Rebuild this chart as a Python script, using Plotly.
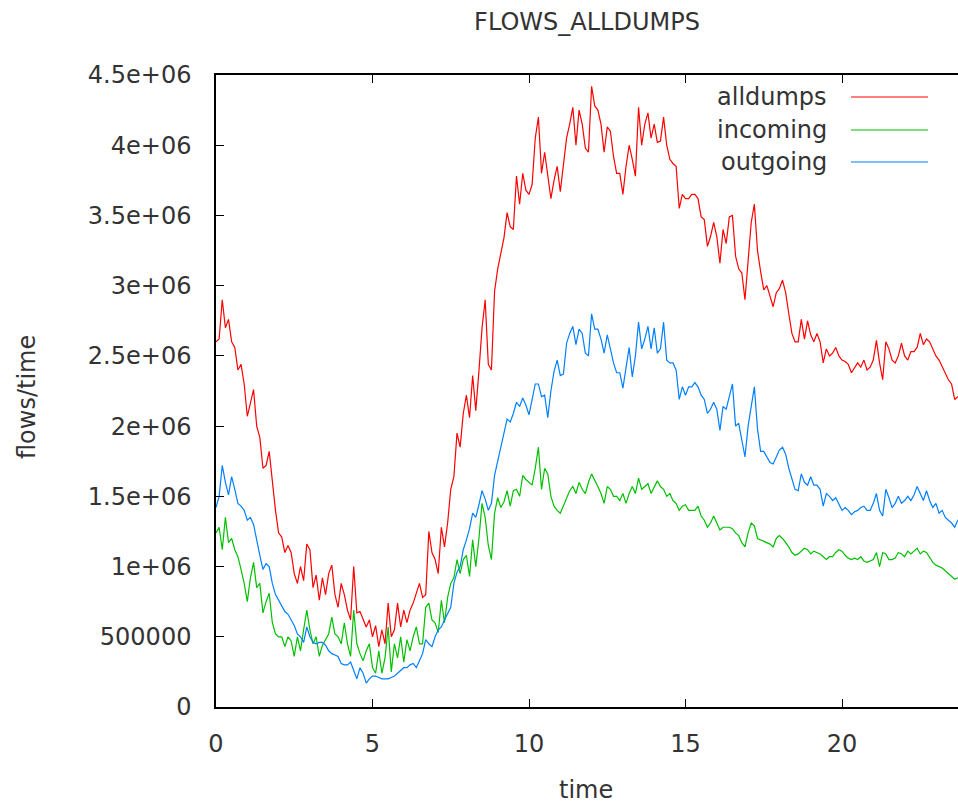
import plotly.graph_objects as go

# time axis (hours), step 0.1
time = [round(i * 0.1, 1) for i in range(241)]

# values in millions of flows/time
alldumps_m = [
    2.60, 2.62, 2.90, 2.70, 2.76, 2.60, 2.56, 2.40, 2.44, 2.30,
    2.07, 2.17, 2.26, 2.00, 1.92, 1.70, 1.72, 1.82, 1.60, 1.40,
    1.24, 1.21, 1.10, 1.15, 1.10, 0.95, 0.88, 1.00, 0.90, 1.16,
    1.12, 0.85, 0.94, 0.76, 0.92, 0.80, 0.95, 1.01, 0.80, 0.71,
    0.88, 0.80, 0.69, 0.62, 1.00, 0.67, 0.68, 0.62, 0.57, 0.62,
    0.50, 0.58, 0.43, 0.55, 0.45, 0.74, 0.50, 0.55, 0.74, 0.57,
    0.69, 0.60, 0.69, 0.74, 0.81, 0.88, 0.78, 0.80, 1.25, 1.10,
    1.05, 0.95, 1.28, 1.14, 1.31, 1.55, 1.64, 1.95, 1.85, 2.09,
    2.22, 2.06, 2.36, 2.11, 2.39, 2.70, 2.90, 2.44, 2.40, 2.96,
    3.12, 3.22, 3.34, 3.52, 3.42, 3.40, 3.78, 3.58, 3.80, 3.68,
    3.65, 3.72, 4.05, 4.20, 3.80, 3.95, 3.78, 3.62, 3.75, 3.85,
    3.67, 3.86, 4.05, 4.15, 4.27, 4.00, 4.25, 4.15, 3.98, 3.95,
    4.42, 4.28, 4.25, 4.15, 3.95, 4.13, 4.10, 3.92, 3.80, 3.80,
    3.65, 3.85, 4.00, 3.90, 3.78, 4.27, 4.00, 4.15, 4.23, 4.05,
    4.15, 4.02, 4.03, 4.20, 4.00, 3.90, 3.87, 3.85, 3.55, 3.65,
    3.62, 3.62, 3.65, 3.65, 3.62, 3.49, 3.47, 3.28, 3.35, 3.45,
    3.35, 3.16, 3.40, 3.30, 3.49, 3.50, 3.21, 3.12, 3.09, 2.90,
    3.20, 3.45, 3.58, 3.25, 3.10, 2.97, 3.00, 2.92, 2.85, 2.95,
    2.98, 3.04, 2.95, 2.80, 2.66, 2.60, 2.60, 2.76, 2.62, 2.75,
    2.65, 2.60, 2.66, 2.60, 2.45, 2.55, 2.50, 2.52, 2.56, 2.50,
    2.47, 2.46, 2.44, 2.38, 2.42, 2.45, 2.42, 2.47, 2.40, 2.42,
    2.47, 2.61, 2.45, 2.33, 2.60, 2.55, 2.47, 2.45, 2.50, 2.59,
    2.50, 2.47, 2.53, 2.53, 2.56, 2.66, 2.58, 2.62, 2.60, 2.55,
    2.50, 2.47, 2.42, 2.38, 2.33, 2.30, 2.19, 2.21, 2.20, 2.22,
    2.25,
]

incoming_m = [
    1.24, 1.28, 1.12, 1.35, 1.17, 1.20, 1.12, 1.07, 0.98, 0.88,
    0.75, 0.92, 1.03, 0.85, 0.88, 0.67, 0.75, 0.81, 0.60, 0.52,
    0.50, 0.50, 0.43, 0.50, 0.47, 0.36, 0.50, 0.40, 0.55, 0.69,
    0.55, 0.45, 0.50, 0.36, 0.44, 0.48, 0.52, 0.64, 0.52, 0.50,
    0.45, 0.60, 0.45, 0.36, 0.69, 0.45, 0.38, 0.33, 0.40, 0.45,
    0.28, 0.24, 0.40, 0.24, 0.35, 0.57, 0.25, 0.45, 0.35, 0.50,
    0.32, 0.48, 0.40, 0.50, 0.57, 0.45, 0.45, 0.71, 0.74, 0.62,
    0.60, 0.53, 0.76, 0.60, 0.78, 0.88, 0.92, 1.05, 0.95, 1.05,
    1.08, 0.93, 1.19, 1.00, 1.20, 1.45, 1.35, 1.15, 1.05, 1.38,
    1.49, 1.42, 1.46, 1.54, 1.43, 1.54, 1.55, 1.50, 1.65, 1.62,
    1.60, 1.58, 1.70, 1.85, 1.55, 1.70, 1.66, 1.50, 1.43, 1.40,
    1.38, 1.43, 1.49, 1.54, 1.57, 1.52, 1.60, 1.55, 1.52, 1.60,
    1.66, 1.62, 1.57, 1.52, 1.45, 1.57, 1.55, 1.50, 1.50, 1.47,
    1.52, 1.45, 1.52, 1.57, 1.52, 1.63, 1.55, 1.57, 1.59, 1.52,
    1.57, 1.61, 1.57, 1.55, 1.50, 1.52, 1.47, 1.45, 1.40, 1.43,
    1.44, 1.40, 1.40, 1.40, 1.43, 1.36, 1.33, 1.28, 1.31, 1.36,
    1.31, 1.26, 1.28, 1.28, 1.28, 1.27, 1.24, 1.22, 1.17, 1.14,
    1.24, 1.31, 1.29, 1.20, 1.19, 1.18, 1.17, 1.16, 1.14, 1.20,
    1.22, 1.20, 1.17, 1.14, 1.10, 1.08, 1.09, 1.11, 1.13, 1.12,
    1.09, 1.11, 1.10, 1.09, 1.07, 1.05, 1.07, 1.07, 1.10, 1.12,
    1.11, 1.08, 1.06, 1.05, 1.06, 1.05, 1.07, 1.04, 1.03, 1.04,
    1.05, 1.10, 1.00, 1.10, 1.09, 1.05, 1.05, 1.06, 1.10, 1.09,
    1.07, 1.11, 1.09, 1.11, 1.13, 1.09, 1.11, 1.10, 1.06, 1.03,
    1.01, 1.00, 0.99, 0.97, 0.95, 0.93, 0.91, 0.92, 0.91, 0.90,
    0.92,
]

outgoing_m = [
    1.42, 1.50, 1.72, 1.60, 1.51, 1.64, 1.55, 1.45, 1.43, 1.40,
    1.33, 1.35, 1.30, 1.18, 1.08, 0.98, 1.02, 1.00, 0.88, 0.80,
    0.76, 0.72, 0.68, 0.66, 0.62, 0.58, 0.52, 0.50, 0.46, 0.57,
    0.50, 0.46, 0.45, 0.46, 0.46, 0.44, 0.40, 0.38, 0.37, 0.36,
    0.31, 0.30, 0.30, 0.32, 0.26, 0.20, 0.28, 0.24, 0.17, 0.20,
    0.22, 0.22, 0.21, 0.20, 0.20, 0.20, 0.21, 0.22, 0.24, 0.26,
    0.28, 0.28, 0.30, 0.31, 0.28, 0.33, 0.38, 0.48, 0.45, 0.43,
    0.50, 0.55, 0.57, 0.62, 0.67, 0.71, 0.88, 0.96, 1.00, 1.12,
    1.19, 1.27, 1.38, 1.35, 1.44, 1.54, 1.48, 1.40, 1.45, 1.65,
    1.75, 1.85, 1.95, 2.05, 2.03, 2.09, 2.17, 2.14, 2.20, 2.15,
    2.08, 2.18, 2.30, 2.30, 2.21, 2.22, 2.06, 2.25, 2.39, 2.47,
    2.36, 2.37, 2.59, 2.66, 2.71, 2.58, 2.69, 2.66, 2.52, 2.50,
    2.80, 2.69, 2.69, 2.62, 2.52, 2.65, 2.55, 2.45, 2.38, 2.38,
    2.27, 2.40, 2.56, 2.35, 2.50, 2.74, 2.55, 2.62, 2.71, 2.55,
    2.70, 2.52, 2.55, 2.74, 2.47, 2.45, 2.45, 2.40, 2.19, 2.28,
    2.22, 2.28, 2.28, 2.31, 2.28, 2.22, 2.19, 2.09, 2.12, 2.17,
    2.12, 1.97, 2.14, 2.12, 2.22, 2.30, 2.00, 2.02, 1.90, 1.78,
    2.00, 2.15, 2.28, 1.98, 1.82, 1.82, 1.78, 1.74, 1.73, 1.78,
    1.83, 1.85, 1.80, 1.70, 1.62, 1.55, 1.54, 1.66, 1.60, 1.58,
    1.64, 1.58, 1.58, 1.55, 1.43, 1.52, 1.50, 1.47, 1.49, 1.44,
    1.40, 1.42, 1.40, 1.37, 1.39, 1.40, 1.42, 1.43, 1.40, 1.40,
    1.45, 1.52, 1.40, 1.36, 1.55, 1.49, 1.42, 1.45, 1.50, 1.45,
    1.47, 1.50, 1.47, 1.51, 1.57, 1.52, 1.47, 1.54, 1.47, 1.42,
    1.45, 1.38, 1.40, 1.35, 1.33, 1.31, 1.28, 1.33, 1.32, 1.30,
    1.32,
]

series_names = ["alldumps", "incoming", "outgoing"]
series_colors = ["#ff0000", "#00c000", "#0080ff"]

y_tickvals = [0, 500000, 1000000, 1500000, 2000000, 2500000, 3000000, 3500000, 4000000, 4500000]
y_ticktext = ["0", "500000", "1e+06", "1.5e+06", "2e+06", "2.5e+06", "3e+06", "3.5e+06", "4e+06", "4.5e+06"]
x_tickvals = [0, 5, 10, 15, 20]

FONT = "DejaVu Sans"
TXT = "#333333"

fig = go.Figure()
for name, vals, col in zip(series_names, [alldumps_m, incoming_m, outgoing_m], series_colors):
    fig.add_trace(go.Scatter(
        x=time, y=[v * 1e6 for v in vals], mode="lines", name=name,
        line=dict(color=col, width=1.2), showlegend=False,
    ))

# plot area geometry (pixels) for legend placement
L, R, T, B = 216, 958, 75, 707
PW, PH = R - L, B - T

def px(xp):
    return (xp - L) / PW

def py(yp):
    return (B - yp) / PH

shapes = []
annotations = []
legend_y = [97, 130, 162]
for name, col, ly in zip(series_names, series_colors, legend_y):
    annotations.append(dict(
        x=px(829), y=py(ly), xref="paper", yref="paper", text=name,
        showarrow=False, xanchor="right", yanchor="middle",
        font=dict(family=FONT, size=24, color=TXT),
    ))
    shapes.append(dict(
        type="line", xref="paper", yref="paper",
        x0=px(851), x1=px(928), y0=py(ly), y1=py(ly),
        line=dict(color=col, width=1.2),
    ))

annotations.append(dict(
    x=px(27), y=py(397), xref="paper", yref="paper", text="flows/time",
    showarrow=False, textangle=-90, xanchor="center", yanchor="middle",
    font=dict(family=FONT, size=24, color=TXT),
))
annotations.append(dict(
    x=px(586), y=py(790), xref="paper", yref="paper", text="time",
    showarrow=False, xanchor="center", yanchor="middle",
    font=dict(family=FONT, size=24, color=TXT),
))

fig.update_layout(
    width=958, height=807,
    margin=dict(l=L, r=958 - R, t=T, b=807 - B, pad=0),
    paper_bgcolor="white", plot_bgcolor="white",
    title=dict(text="FLOWS_ALLDUMPS", x=0.5, xref="paper", xanchor="center",
               y=1 - 22 / 807, yref="container", yanchor="middle",
               font=dict(family=FONT, size=24, color=TXT)),
    font=dict(family=FONT, size=24, color=TXT),
    shapes=shapes, annotations=annotations,
    xaxis=dict(range=[0, PW / 31.3], tickvals=x_tickvals, ticks="inside", ticklen=8,
               tickcolor="#000", tickwidth=1, showline=True, linecolor="#000", linewidth=1.5,
               mirror="ticks", showgrid=False, zeroline=False,
               tickfont=dict(family=FONT, size=24, color=TXT), ticklabelstandoff=14),
    yaxis=dict(range=[0, 4.5e6], tickvals=y_tickvals, ticktext=y_ticktext, ticks="inside",
               ticklen=8, tickcolor="#000", tickwidth=1, showline=True, linecolor="#000",
               linewidth=1.5, showgrid=False, zeroline=False,
               tickfont=dict(family=FONT, size=24, color=TXT), ticklabelstandoff=18),
)

fig.write_html("out.html", config={"displayModeBar": False})
